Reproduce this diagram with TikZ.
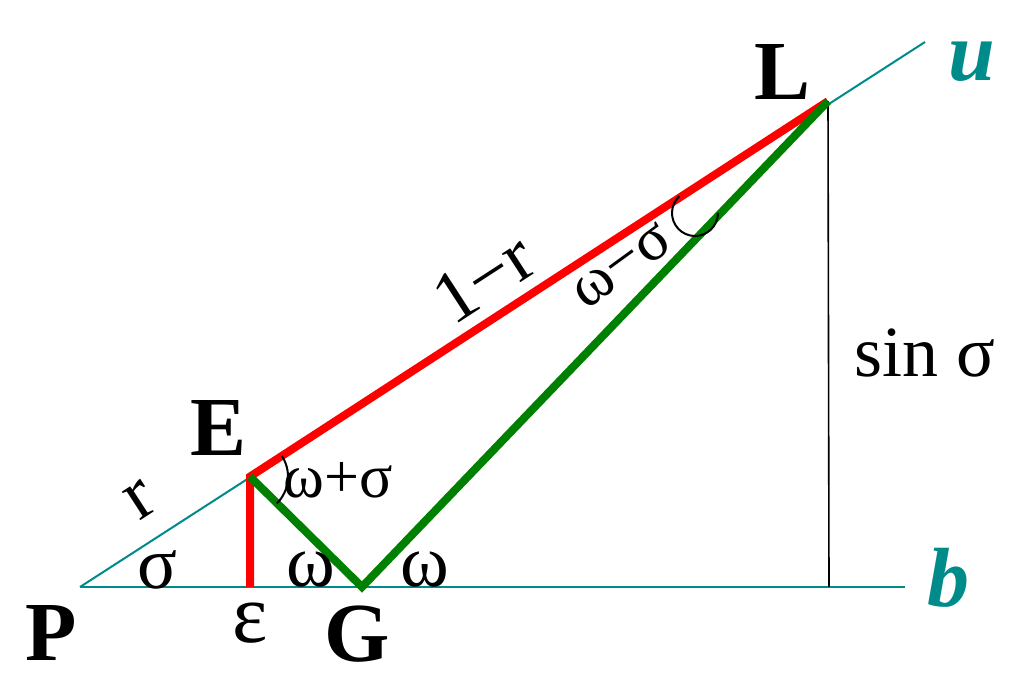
\documentclass[tikz,border=0pt]{standalone}
\usepackage{fontspec}
\setmainfont{Liberation Serif}
\usetikzlibrary{calc}

\definecolor{lineteal}{RGB}{0,139,139}
\definecolor{sidegreen}{RGB}{0,128,0}

\begin{document}
\begin{tikzpicture}[x=0.5pt,y=0.5pt,
  axis/.style={lineteal, line width=1pt},
  redside/.style={red, line width=4pt},
  greenside/.style={sidegreen, line width=4pt},
  vertex/.style={inner sep=0pt, font=\fontsize{42}{42}\selectfont\bfseries},
  dirlabel/.style={inner sep=0pt, text=lineteal, font=\fontsize{42}{42}\selectfont\bfseries\itshape},
  bigangle/.style={inner sep=0pt, font=\fontsize{37}{37}\selectfont},
  smallangle/.style={inner sep=0pt, font=\fontsize{31}{31}\selectfont}]

\useasboundingbox (0,0) rectangle (1028,696);

% Define points
\coordinate (P) at (80,109);
\coordinate (E) at (250,219.4);
\coordinate (L) at (828,594.8);
\coordinate (G) at (362,109);
\coordinate (F) at (250,109);
\coordinate (H) at (829,109);
\coordinate (bend) at (905,109);
\coordinate (uend) at (925,654);

% Draw the two lines through P
\draw[axis] (P) -- (bend);
\draw[axis] (P) -- (uend);

% Height of L
\draw[line width=0.8pt] (L) -- (H);

% Red and green sides
\draw[redside] (F) -- (E) -- (L);
\draw[greenside] (E) -- (G) -- (L);

% Angle arc at E
\draw[line width=1pt] ($(E)+(33:38)$) arc[start angle=33, end angle=-45, radius=38];

% Angle arc near L
\draw[line width=1pt] ($(695,483)+(133:23)$) arc[start angle=133, end angle=360, radius=23];

% Point labels
\node[vertex] (labP) at (51,63) {P};
\node[vertex] (labE) at (219,268) {E};
\node[vertex] (labL) at (783,624) {L};
\node[vertex] (labG) at (357,62) {G};
\node[vertex, font=\fontsize{42}{42}\selectfont] (labeps) at (250,73) {ε};
\node[dirlabel] (labu) at (972,634) {u};
\node[dirlabel] (labb) at (948,118) {b};

% Angle and side labels
\node[bigangle] (sigP) at (157,126) {σ};
\node[bigangle] (omG1) at (311,126) {ω};
\node[bigangle] (omG2) at (425,126) {ω};
\node[smallangle] (omE) at (338,216) {ω+σ};
\node[bigangle, rotate=33] (sider) at (140,196) {r};
\node[bigangle, rotate=33] (side1r) at (484,418) {1−r};
\node[smallangle, rotate=36] (omL) at (622,430) {ω−σ};
\node[bigangle, font=\fontsize{36}{36}\selectfont] (sinsig) at (925,343) {sin σ};

\end{tikzpicture}
\end{document}
